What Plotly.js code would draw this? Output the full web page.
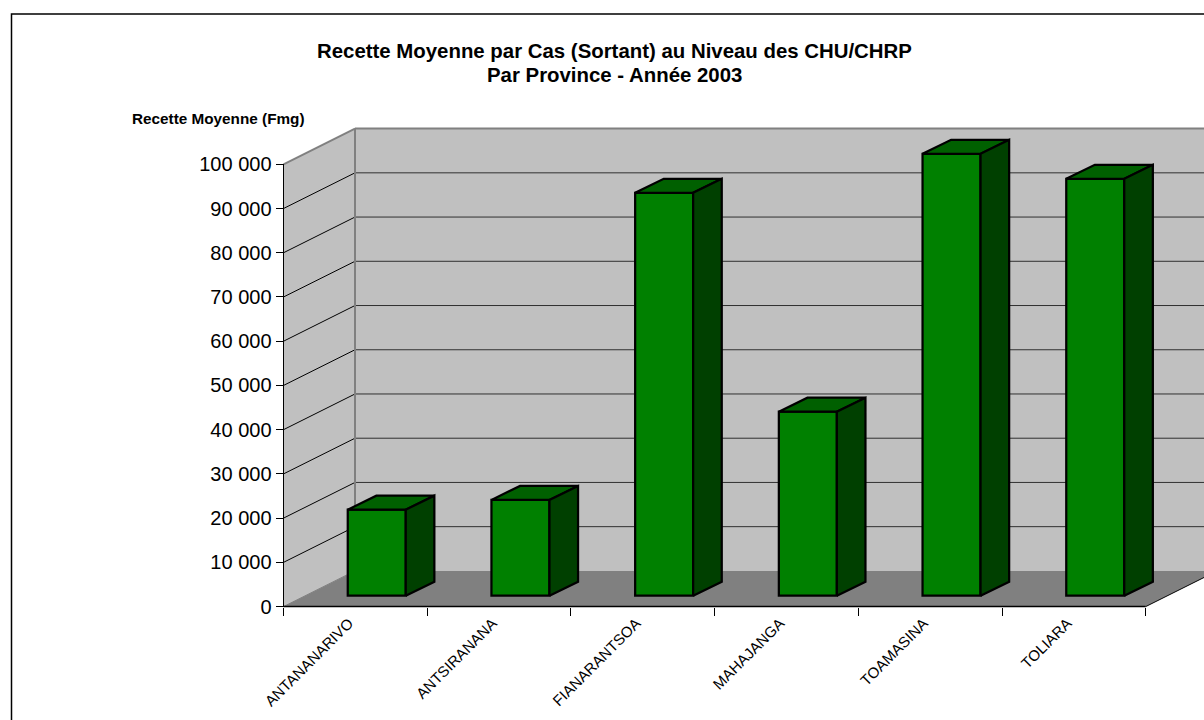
<!DOCTYPE html>
<html>
<head>
<meta charset="utf-8">
<script src="https://cdn.plot.ly/plotly-3.0.1.min.js"></script>
<style>html,body{margin:0;padding:0;background:#fff}#chart{width:1204px;height:720px}</style>
</head>
<body>
<div id="chart"></div>
<script>
const provinces = ["ANTANANARIVO","ANTSIRANANA","FIANARANTSOA","MAHAJANGA","TOAMASINA","TOLIARA"];
const recette = [19450, 21650, 91100, 41600, 99900, 94250];
const yTickValues = [0,10000,20000,30000,40000,50000,60000,70000,80000,90000,100000];
const yTickLabels = ["0","10 000","20 000","30 000","40 000","50 000","60 000","70 000","80 000","90 000","100 000"];

// Pixel scale of the axes
const X0 = 283.5, UX = 143.7, Y0 = 606.6, UY = 442.3 / 100000;
const W = 1204, H = 720;
// 3-D projection offsets, in axis units
const wallDX = 71.5 / UX, wallDY = 35.7 / UY;
const barW = 58 / UX, barShift = 21.4 / UX, barBase = 10.9 / UY;
const barDX = 28.6 / UX, barDY = 14 / UY;
const labelShift = 6.5 / UX;
const N = provinces.length, YMAX = 100000;

const centers = provinces.map((_, i) => i + 0.5);
const barX = centers.map(c => c + barShift);

const topX = [], topY = [], sideX = [], sideY = [];
recette.forEach((v, i) => {
  const l = barX[i] - barW / 2, r = barX[i] + barW / 2, t = v + barBase;
  topX.push(l, r, r + barDX, l + barDX, l, null);
  topY.push(t, t, t + barDY, t + barDY, t, null);
  sideX.push(r, r + barDX, r + barDX, r, r, null);
  sideY.push(barBase, barBase + barDY, t + barDY, t, barBase, null);
});

const farX = N + wallDX + 1;
const line = (x0, y0, x1, y1, color, width) => ({type:'line', xref:'x', yref:'y', layer:'below',
  x0, y0, x1, y1, line:{color, width}});
const poly = (pts, fill) => ({type:'path', xref:'x', yref:'y', layer:'below', fillcolor:fill,
  line:{width:0}, path:'M' + pts.map(p => p[0] + ',' + p[1]).join('L') + 'Z'});

const shapes = [
  {type:'rect', xref:'paper', yref:'paper', layer:'below', x0:11.5/W, x1:1.01, y0:-0.01, y1:1-14/H,
   fillcolor:'#fff', line:{color:'#000', width:1.5}},
  poly([[0,0],[wallDX,wallDY],[wallDX,YMAX+wallDY],[0,YMAX]], '#C0C0C0'),
  poly([[wallDX,wallDY],[farX,wallDY],[farX,YMAX+wallDY],[wallDX,YMAX+wallDY]], '#C0C0C0'),
  poly([[0,0],[N,0],[N+wallDX,wallDY],[farX,wallDY],[wallDX,wallDY]], '#808080')
];
yTickValues.slice(1, -1).forEach(v => {
  shapes.push(line(0, v, wallDX, v + wallDY, '#000', 1));
  shapes.push(line(wallDX, v + wallDY, farX, v + wallDY, '#303030', 1));
});
shapes.push(line(wallDX, wallDY, wallDX, YMAX + wallDY, '#808080', 2));
shapes.push(line(0, YMAX, wallDX, YMAX + wallDY, '#808080', 2));
shapes.push(line(wallDX, YMAX + wallDY, farX, YMAX + wallDY, '#808080', 2));
shapes.push(line(0, 0, wallDX, wallDY, '#808080', 1));
shapes.push(line(0, 0, 0, YMAX, '#000', 1));
shapes.push(line(0, 0, N, 0, '#000', 1.5));
shapes.push(line(N, 0, N + wallDX, wallDY, '#000', 1));

const data = [
  {type:'bar', x:barX, y:recette, base:recette.map(() => barBase), width:barW,
   marker:{color:'#008000', line:{color:'#000', width:2.25}}, hoverinfo:'skip', showlegend:false},
  {type:'scatter', mode:'lines', x:topX, y:topY, fill:'toself', fillcolor:'#006000',
   line:{color:'#000', width:2.25}, hoverinfo:'skip', showlegend:false},
  {type:'scatter', mode:'lines', x:sideX, y:sideY, fill:'toself', fillcolor:'#004000',
   line:{color:'#000', width:2.25}, hoverinfo:'skip', showlegend:false}
];

const layout = {
  width:W, height:H, margin:{l:0,r:0,t:0,b:0,pad:0}, showlegend:false,
  paper_bgcolor:'#fff', plot_bgcolor:'rgba(0,0,0,0)',
  font:{family:'"Liberation Sans", Arial, sans-serif', color:'#000'},
  xaxis:{domain:[0,1], range:[-X0/UX, (W-X0)/UX], anchor:'free', position:(H-Y0)/H,
    tickmode:'array', tickvals:centers.map(c => c - labelShift), ticktext:provinces, tickangle:-45, ticks:'', ticklen:0,
    tickfont:{size:15, color:'#000'}, ticklabelstandoff:4,
    showgrid:false, zeroline:false, showline:false, fixedrange:true,
    minor:{tickmode:'array', tickvals:[0,1,2,3,4,5,6], ticks:'outside', ticklen:8, tickwidth:1, tickcolor:'#000', showgrid:false}},
  yaxis:{domain:[0,1], range:[(Y0-H)/UY/1, Y0/UY], anchor:'free', position:X0/W,
    tickmode:'array', tickvals:yTickValues, ticktext:yTickLabels, ticks:'outside', ticklen:8, tickwidth:1, tickcolor:'#000',
    tickfont:{size:20, color:'#000'}, showgrid:false, zeroline:false, showline:false, fixedrange:true},
  shapes,
  annotations:[
    {xref:'paper', yref:'paper', x:614.5/W, y:1-51/H, xanchor:'center', yanchor:'middle', showarrow:false,
     text:'<b>Recette Moyenne par Cas (Sortant) au Niveau des CHU/CHRP</b>', font:{size:20.4, color:'#000'}},
    {xref:'paper', yref:'paper', x:614.5/W, y:1-75/H, xanchor:'center', yanchor:'middle', showarrow:false,
     text:'<b>Par Province - Année 2003</b>', font:{size:20.4, color:'#000'}},
    {xref:'paper', yref:'paper', x:218.5/W, y:1-119/H, xanchor:'center', yanchor:'middle', showarrow:false,
     text:'<b>Recette Moyenne (Fmg)</b>', font:{size:15.3, color:'#000'}}
  ]
};
Plotly.newPlot('chart', data, layout, {staticPlot:true, displayModeBar:false});
</script>
</body>
</html>
